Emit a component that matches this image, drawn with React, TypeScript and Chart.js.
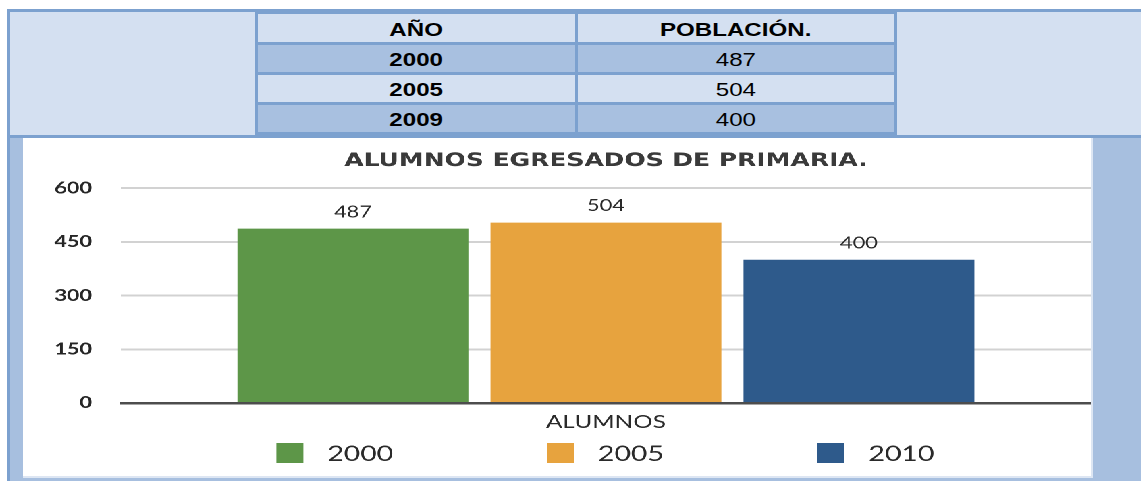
import React, { useEffect, useRef } from "react";
import { Chart, registerables } from "chart.js";

Chart.register(...registerables);

// ---- data ----
const tableHeaders = ["AÑO", "POBLACIÓN."];
const tableYears = ["2000", "2005", "2009"];
const tablePopulation = [487, 504, 400];

const chartTitle = "ALUMNOS EGRESADOS DE PRIMARIA.";
const categories = ["ALUMNOS"];
const seriesNames = ["2000", "2005", "2010"];
const seriesValues = [[487], [504], [400]];
const seriesColors = ["#5d9648", "#e7a33e", "#2e5a8b"];
const yTicks = [0, 150, 300, 450, 600];

// ---- style constants ----
const STRETCH = 1.35;
const TABLE_STRETCH = 1.27;
const BORDER = "#7ca1cf";
const LIGHT = "#d4e0f1";
const DARK = "#a8c0e0";
const STRIP = "#a7bfdf";
const FONT = 'Lato, "Open Sans", sans-serif';

const valueLabels = {
  id: "valueLabels",
  afterDatasetsDraw(chart: any) {
    const ctx = chart.ctx;
    ctx.save();
    ctx.font = `16px ${FONT}`;
    ctx.fillStyle = "#2a2a2a";
    ctx.textAlign = "center";
    ctx.textBaseline = "middle";
    chart.data.datasets.forEach((ds: any, i: number) => {
      const meta = chart.getDatasetMeta(i);
      meta.data.forEach((el: any, j: number) => {
        ctx.fillText(String(ds.data[j]), el.x, el.y - 16.5);
      });
    });
    ctx.restore();
  },
};

const spacedLegend = {
  id: "spacedLegend",
  afterDraw(chart: any) {
    const ctx = chart.ctx;
    const ca = chart.chartArea;
    const cx = (ca.left + ca.right) / 2;
    const cy = ca.bottom + 50;
    const stride = 200.4;
    const box = 20;
    ctx.save();
    ctx.font = `21px ${FONT}`;
    ctx.textAlign = "left";
    ctx.textBaseline = "middle";
    chart.data.datasets.forEach((ds: any, i: number) => {
      const left = cx - 43.7 + (i - 1) * stride;
      ctx.fillStyle = ds.backgroundColor;
      ctx.fillRect(left, cy - box / 2, box, box);
      ctx.fillStyle = "#2a2a2a";
      ctx.fillText(ds.label, left + 37.8, cy + 1);
    });
    ctx.restore();
  },
};

function Box(props: { x0: number; x1: number; y0: number; y1: number; bg: string; children?: any }) {
  const { x0, x1, y0, y1, bg, children } = props;
  return (
    <div
      style={{
        position: "absolute",
        left: x0,
        top: y0,
        width: x1 - x0,
        height: y1 - y0,
        background: bg,
        display: "flex",
        alignItems: "center",
        justifyContent: "center",
        paddingTop: 3,
        boxSizing: "border-box",
      }}
    >
      {children}
    </div>
  );
}

function Txt(props: { bold?: boolean; children: any }) {
  return (
    <span
      style={{
        display: "inline-block",
        transform: `scaleX(${TABLE_STRETCH})`,
        font: `${props.bold ? "bold " : ""}19px "Liberation Sans", Arial, sans-serif`,
        color: "#000",
        lineHeight: "20px",
        whiteSpace: "nowrap",
      }}
    >
      {props.children}
    </span>
  );
}

export default function App() {
  const ref = useRef<HTMLCanvasElement>(null);

  useEffect(() => {
    const chart = new Chart(ref.current as HTMLCanvasElement, {
      type: "bar",
      data: {
        labels: categories,
        datasets: seriesNames.map((name, i) => ({
          label: name,
          data: seriesValues[i],
          backgroundColor: seriesColors[i],
          borderWidth: 0,
          categoryPercentage: 0.7826,
          barPercentage: 0.9126,
        })),
      },
      options: {
        animation: false,
        responsive: true,
        maintainAspectRatio: false,
        devicePixelRatio: 2,
        layout: { padding: { left: 0, right: 0, top: 0, bottom: 34.8 } },
        plugins: {
          legend: { display: false },
          tooltip: { enabled: false },
          title: {
            display: true,
            text: chartTitle,
            fullSize: false,
            color: "#3a3a3a",
            font: { family: '"DejaVu Sans", sans-serif', size: 18.5, weight: "bold" },
            padding: { top: 12, bottom: 16 },
          },
        },
        scales: {
          x: {
            grid: { display: false, drawTicks: false },
            border: { display: true, color: "#4d4d4d", width: 2.5 },
            ticks: { color: "#2a2a2a", font: { family: FONT, size: 18 }, padding: 8.3 },
          },
          y: {
            min: 0,
            max: 600,
            afterBuildTicks: (s: any) => {
              s.ticks = yTicks.map((v) => ({ value: v }));
            },
            afterFit: (s: any) => {
              s.width = 72.6;
            },
            grid: { color: "#d2d2d2", lineWidth: 2, drawTicks: false },
            border: { display: false },
            ticks: { color: "#262626", font: { family: FONT, size: 16, weight: "bold" }, padding: 21.5 },
          },
        },
      },
      plugins: [valueLabels, spacedLegend],
    } as any);
    return () => chart.destroy();
  }, []);

  const c1: [number, number] = [258, 575];
  const c2: [number, number] = [578, 894];
  const rows: [number, number][] = [
    [45, 72],
    [75, 102],
    [105, 132],
  ];

  return (
    <div style={{ position: "absolute", left: 0, top: 0, width: 1141, height: 481, background: "#fff", overflow: "hidden" }}>
      {/* table frame */}
      <div style={{ position: "absolute", left: 7, top: 9, width: 1134, height: 129, background: BORDER }} />
      <Box x0={10} x1={255} y0={12} y1={135} bg={LIGHT} />
      <Box x0={897} x1={1141} y0={12} y1={135} bg={LIGHT} />
      <Box x0={c1[0]} x1={c1[1]} y0={14} y1={42} bg={LIGHT}>
        <Txt bold>{tableHeaders[0]}</Txt>
      </Box>
      <Box x0={c2[0]} x1={c2[1]} y0={14} y1={42} bg={LIGHT}>
        <Txt bold>{tableHeaders[1]}</Txt>
      </Box>
      {tableYears.map((yr, i) => (
        <React.Fragment key={yr}>
          <Box x0={c1[0]} x1={c1[1]} y0={rows[i][0]} y1={rows[i][1]} bg={i % 2 === 0 ? DARK : LIGHT}>
            <Txt bold>{yr}</Txt>
          </Box>
          <Box x0={c2[0]} x1={c2[1]} y0={rows[i][0]} y1={rows[i][1]} bg={i % 2 === 0 ? DARK : LIGHT}>
            <Txt>{tablePopulation[i]}</Txt>
          </Box>
        </React.Fragment>
      ))}

      {/* chart frame */}
      <div style={{ position: "absolute", left: 7, top: 138, width: 3, height: 343, background: BORDER }} />
      <div style={{ position: "absolute", left: 10, top: 138, width: 13, height: 343, background: STRIP }} />
      <div style={{ position: "absolute", left: 1091, top: 138, width: 2, height: 343, background: "#dde6f3" }} />
      <div style={{ position: "absolute", left: 1093, top: 138, width: 48, height: 343, background: STRIP }} />
      <div style={{ position: "absolute", left: 23, top: 476, width: 1070, height: 2, background: "#dde6f3" }} />
      <div style={{ position: "absolute", left: 10, top: 478, width: 1131, height: 3, background: STRIP }} />

      {/* chart, horizontally stretched like the reference */}
      <div
        style={{
          position: "absolute",
          left: 23,
          top: 138,
          width: 791,
          height: 338,
          transform: `scaleX(${STRETCH})`,
          transformOrigin: "0 0",
          background: "#fff",
        }}
      >
        <canvas ref={ref} />
      </div>
    </div>
  );
}
